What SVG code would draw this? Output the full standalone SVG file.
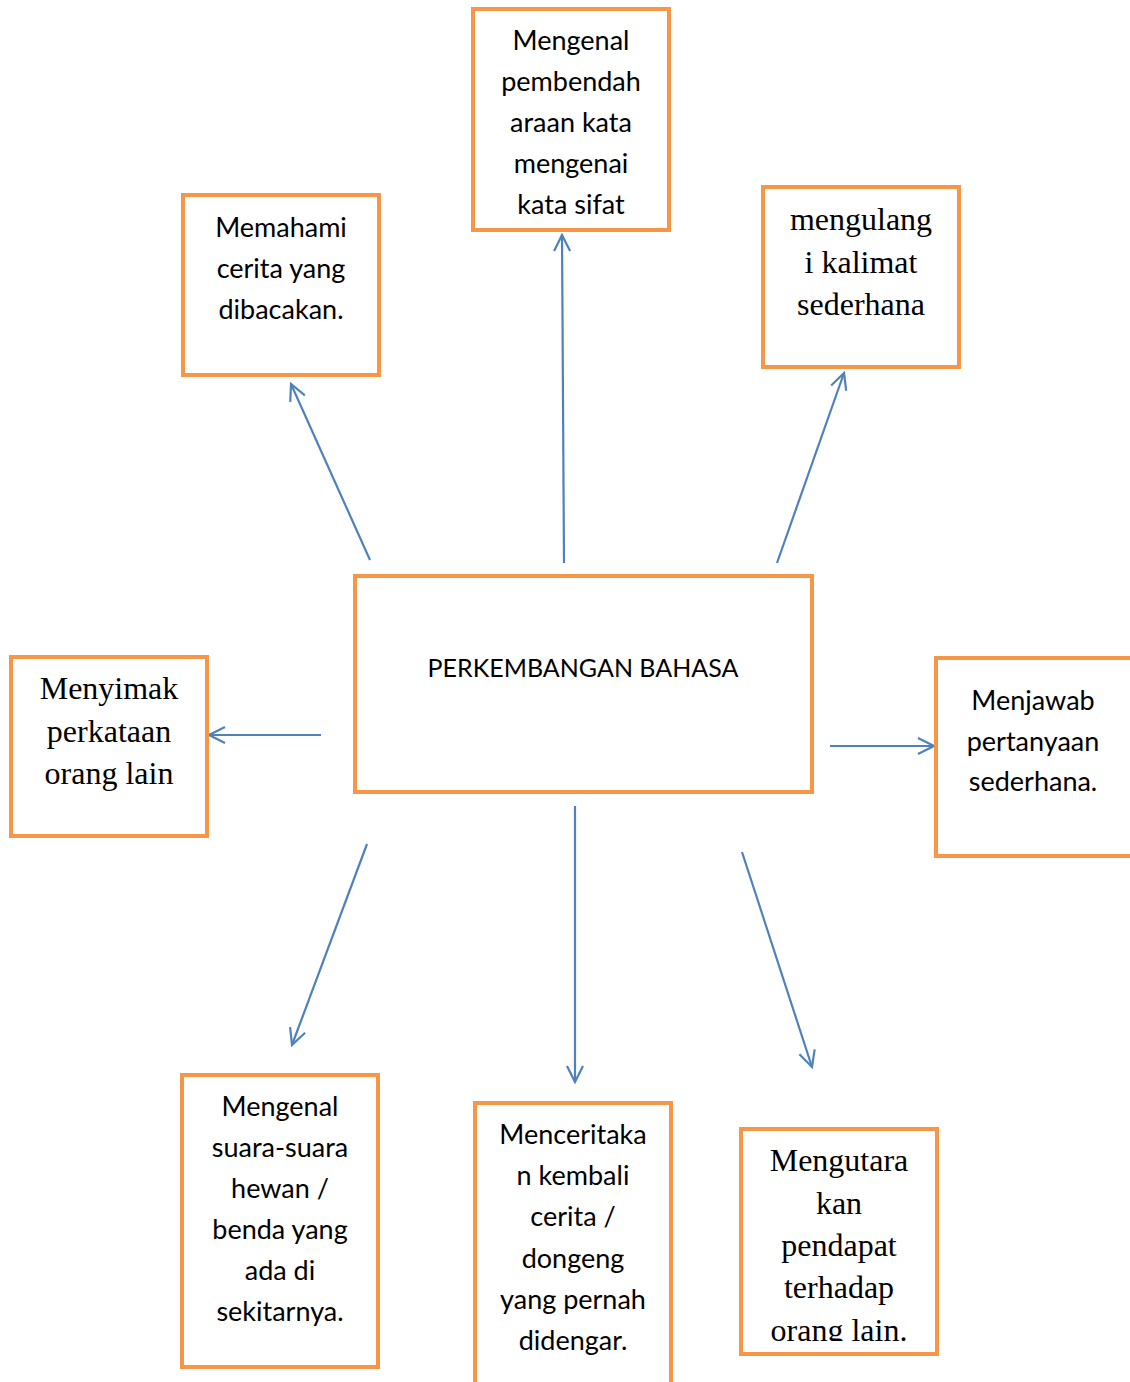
<svg xmlns="http://www.w3.org/2000/svg" width="1130" height="1382" viewBox="0 0 1130 1382">
<style>
.box{fill:#fff;stroke:#F79646;stroke-width:4}
.s{font-family:Lato,"Open Sans",sans-serif;font-size:27px;fill:#000;text-anchor:middle}
.t{font-family:Lato,"Open Sans",sans-serif;font-size:25px;fill:#000;text-anchor:middle}
.r{font-family:"Liberation Serif","Times New Roman",serif;font-size:32px;fill:#000;text-anchor:middle}
.c{fill:none;stroke:#4F81BD;stroke-width:2.2}
</style>
<defs>
<marker id="ah" viewBox="0 0 20 20" refX="18" refY="10" markerWidth="20" markerHeight="20" markerUnits="userSpaceOnUse" orient="auto">
<path d="M2,2 L18,10 L2,18" fill="none" stroke="#4F81BD" stroke-width="2.2"/>
</marker>
<clipPath id="clipBR"><rect x="741" y="1129" width="196" height="212"/></clipPath>
</defs>
<rect width="1130" height="1382" fill="#fff"/>
<g id="connectors">
<line class="c" x1="370" y1="560" x2="291" y2="384" marker-end="url(#ah)"/>
<line class="c" x1="564" y1="563" x2="562" y2="235" marker-end="url(#ah)"/>
<line class="c" x1="777" y1="563" x2="844" y2="373" marker-end="url(#ah)"/>
<line class="c" x1="321" y1="735" x2="209" y2="735" marker-end="url(#ah)"/>
<line class="c" x1="830" y1="746" x2="934" y2="746" marker-end="url(#ah)"/>
<line class="c" x1="367" y1="844" x2="292" y2="1045" marker-end="url(#ah)"/>
<line class="c" x1="575" y1="806" x2="575" y2="1082" marker-end="url(#ah)"/>
<line class="c" x1="742" y1="852" x2="812" y2="1067" marker-end="url(#ah)"/>
</g>
<g id="center">
<rect class="box" x="355" y="576" width="457" height="216"/>
<text class="t" x="583" y="677">PERKEMBANGAN BAHASA</text>
</g>
<g id="top-center">
<rect class="box" x="473" y="9" width="196" height="221"/>
<text class="s"><tspan x="571" y="50">Mengenal</tspan><tspan x="571" y="91">pembendah</tspan><tspan x="571" y="132">araan kata</tspan><tspan x="571" y="173">mengenai</tspan><tspan x="571" y="214">kata sifat</tspan></text>
</g>
<g id="top-left">
<rect class="box" x="183" y="195" width="196" height="180"/>
<text class="s"><tspan x="281" y="237">Memahami</tspan><tspan x="281" y="278">cerita yang</tspan><tspan x="281" y="319">dibacakan.</tspan></text>
</g>
<g id="top-right">
<rect class="box" x="763" y="187" width="196" height="180"/>
<text class="r"><tspan x="861" y="230">mengulang</tspan><tspan x="861" y="273">i kalimat</tspan><tspan x="861" y="315">sederhana</tspan></text>
</g>
<g id="left">
<rect class="box" x="11" y="657" width="196" height="179"/>
<text class="r"><tspan x="109" y="699">Menyimak</tspan><tspan x="109" y="742">perkataan</tspan><tspan x="109" y="784">orang lain</tspan></text>
</g>
<g id="right">
<rect class="box" x="936" y="658" width="200" height="198"/>
<text class="s"><tspan x="1033" y="710">Menjawab</tspan><tspan x="1033" y="751">pertanyaan</tspan><tspan x="1033" y="791">sederhana.</tspan></text>
</g>
<g id="bottom-left">
<rect class="box" x="182" y="1075" width="196" height="292"/>
<text class="s"><tspan x="280" y="1116">Mengenal</tspan><tspan x="280" y="1157">suara-suara</tspan><tspan x="280" y="1198">hewan /</tspan><tspan x="280" y="1239">benda yang</tspan><tspan x="280" y="1280">ada di</tspan><tspan x="280" y="1321">sekitarnya.</tspan></text>
</g>
<g id="bottom-center">
<rect class="box" x="475" y="1103" width="196" height="290"/>
<text class="s"><tspan x="573" y="1144">Menceritaka</tspan><tspan x="573" y="1185">n kembali</tspan><tspan x="573" y="1226">cerita /</tspan><tspan x="573" y="1268">dongeng</tspan><tspan x="573" y="1309">yang pernah</tspan><tspan x="573" y="1350">didengar.</tspan></text>
</g>
<g id="bottom-right">
<rect class="box" x="741" y="1129" width="196" height="225"/>
<text class="r" clip-path="url(#clipBR)"><tspan x="839" y="1171">Mengutara</tspan><tspan x="839" y="1214">kan</tspan><tspan x="839" y="1256">pendapat</tspan><tspan x="839" y="1298">terhadap</tspan><tspan x="839" y="1341">orang lain.</tspan></text>
</g>
</svg>
